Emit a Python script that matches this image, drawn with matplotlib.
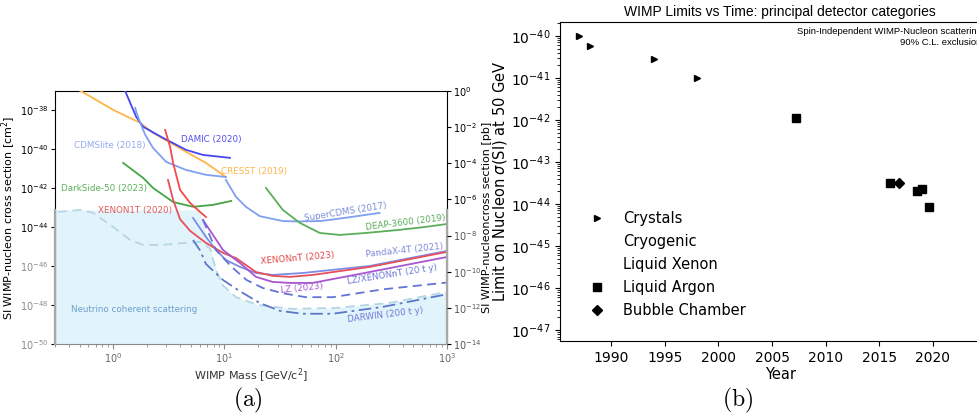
"""Two-panel WIMP exclusion figure: limits vs mass (a) and limits vs year (b)."""

import matplotlib

matplotlib.use("Agg")

import matplotlib.pyplot as plt
import numpy as np
from matplotlib.ticker import NullLocator

# ---- panel (a): SI cross section limits vs WIMP mass (mass in GeV, log10 sigma in cm^2)
cresst_mass = [0.4, 0.51, 1.0, 1.75, 2.28, 4.52, 6.82, 10.3]
cresst_logsig = [-36.75, -37.03, -38.0, -38.67, -39.18, -40.15, -40.72, -41.44]

damic_mass = [1.25, 1.28, 1.61, 1.86, 2.81, 4.52, 6.41, 11.2]
damic_logsig = [-36.9, -37.03, -38.36, -38.87, -39.44, -40.05, -40.31, -40.46]

cdmslite_mass = [1.58, 1.61, 1.75, 1.95, 2.28, 3.0, 4.52, 6.82, 10.3]
cdmslite_logsig = [-37.9, -38.1, -38.67, -39.3, -39.95, -40.67, -41.08, -41.33, -41.44]

supercdms_mass = [10.3, 12.7, 15.6, 20.8, 33.5, 47.5, 71.9, 94, 142, 248]
supercdms_logsig = [-41.59, -42.46, -42.97, -43.45, -43.7, -43.72, -43.7, -43.62, -43.48, -43.28]

ds50_mass = [1.23, 1.86, 2.28, 3.45, 5.22, 7.89, 11.5]
ds50_logsig = [-40.72, -41.49, -42.0, -42.72, -42.97, -42.87, -42.67]

deap_mass = [23.6, 33.5, 47.5, 71.9, 109, 186, 375, 641, 1000]
deap_logsig = [-42.0, -43.13, -43.79, -44.31, -44.41, -44.31, -44.15, -44.0, -43.85]

xenon1t_mass = [2.93, 3.25, 3.45, 3.99, 4.91, 6.03, 6.82]
xenon1t_logsig = [-39.03, -39.9, -40.7, -42.1, -42.77, -43.23, -43.49]

xenonnt_mass = [3.11, 3.45, 3.99, 4.91, 6.82, 9.7, 12.7, 19.2, 27.2, 38.7, 62, 202, 1000]
xenonnt_logsig = [-41.59, -42.6, -43.6, -44.2, -44.82, -45.33, -45.6, -46.31, -46.51,
                  -46.56, -46.46, -46.05, -45.28]

pandax_mass = [5.22, 6.82, 8.39, 10.3, 13.8, 19.2, 27.2, 50.6, 202, 1000]
pandax_logsig = [-43.54, -44.51, -45.18, -45.69, -46.05, -46.36, -46.46, -46.36, -46.0, -45.23]

lz_mass = [6.41, 9.7, 13.8, 19.2, 27.2, 38.7, 62, 202, 1000]
lz_logsig = [-43.64, -45.18, -45.85, -46.56, -46.82, -46.87, -46.87, -46.31, -45.54]

lzxe_mass = [6.41, 8.39, 11.6, 15.8, 22.1, 33.5, 53.8, 94, 264, 1000]
lzxe_logsig = [-43.64, -45.18, -46.05, -46.72, -47.13, -47.4, -47.6, -47.6, -47.2, -46.85]

darwin_mass = [5.22, 6.03, 6.82, 9.7, 13.8, 20.8, 31.5, 50, 94, 264, 1000]
darwin_logsig = [-44.67, -45.2, -45.9, -46.72, -47.3, -47.9, -48.3, -48.45, -48.45, -48.1, -47.45]

nu_mass = [0.32, 0.51, 0.66, 1.0, 1.42, 1.86, 2.81, 4.25, 6.03, 7.41, 8.4, 9.7, 12.7, 20, 40,
           100, 300, 1000]
nu_logsig = [-43.23, -43.13, -43.28, -44.0, -44.67, -44.92, -44.92, -44.82, -44.77, -45.1,
             -46.2, -47.0, -47.6, -48.0, -48.2, -48.15, -47.9, -47.33]

fog_mass = [0.3, 6.0, 7.41, 8.4, 9.7, 12.7, 20, 40, 100, 300, 1000]
fog_logsig = [-43.13, -43.13, -45.1, -46.2, -47.0, -47.6, -48.0, -48.2, -48.15, -47.9, -47.33]

left_ticks = [-38, -40, -42, -44, -46, -48, -50]
right_ticks = [0, -2, -4, -6, -8, -10, -12, -14]

# ---- panel (b): limit at 50 GeV vs year
crystal_years = [1987, 1988, 1994, 1998]
crystal_limits = [1.0e-40, 5.8e-41, 2.8e-41, 1.0e-41]
cryogenic_years = []
cryogenic_limits = []
xenon_years = []
xenon_limits = []
argon_years = [2007.2, 2016.0, 2018.5, 2019.0, 2019.7]
argon_limits = [1.1e-42, 3.1e-44, 2.0e-44, 2.3e-44, 8.5e-45]
bubble_years = [2016.9]
bubble_limits = [3.1e-44]
year_ticks = [1990, 1995, 2000, 2005, 2010, 2015, 2020]
limit_ticks = [-40, -41, -42, -43, -44, -45, -46, -47]

GRAY = "#8a8a8a"


def draw_mass_panel(fig):
    ax = fig.add_axes([0.0563, 0.179, 0.4012, 0.604])
    ax.set_xscale("log")
    ax.set_yscale("log")

    ax.fill_between(fog_mass, 1e-50, 10 ** np.array(fog_logsig), color="#e2f4fb",
                    lw=0, zorder=0)
    ax.plot(nu_mass, 10 ** np.array(nu_logsig), ls=(0, (5, 3)), color="#b5d6e3",
            lw=1.3, zorder=1)

    curves = [
        (cresst_mass, cresst_logsig, "#ffb547", "-"),
        (damic_mass, damic_logsig, "#4646f2", "-"),
        (cdmslite_mass, cdmslite_logsig, "#7f9ff0", "-"),
        (supercdms_mass, supercdms_logsig, "#7f9ff0", "-"),
        (ds50_mass, ds50_logsig, "#46a446", "-"),
        (deap_mass, deap_logsig, "#5aae5a", "-"),
        (xenon1t_mass, xenon1t_logsig, "#f24a4a", "-"),
        (pandax_mass, pandax_logsig, "#7f8ce6", "-"),
        (xenonnt_mass, xenonnt_logsig, "#e6505a", "-"),
        (lz_mass, lz_logsig, "#a955d0", "-"),
        (lzxe_mass, lzxe_logsig, "#6474d6", (0, (5, 3))),
        (darwin_mass, darwin_logsig, "#5b78c8", (0, (7, 2.5, 1.5, 2.5))),
    ]
    for mass, logsig, color, style in curves:
        ax.plot(mass, 10 ** np.array(logsig), color=color, ls=style, lw=1.3, zorder=3)

    labels = [
        ("CDMSlite (2018)", 0.44, -39.85, "#93aaf0", 0),
        ("DAMIC (2020)", 4.1, -39.54, "#5050ee", 0),
        ("CRESST (2019)", 9.3, -41.18, "#ffb547", 0),
        ("DarkSide-50 (2023)", 0.34, -42.05, "#5cb05c", 0),
        ("XENON1T (2020)", 0.73, -43.18, "#e85a5a", 0),
        ("SuperCDMS (2017)", 52, -43.55, "#7a8cdc", 9),
        ("DEAP-3600 (2019)", 186, -44.05, "#5aae5a", 7),
        ("XENONnT (2023)", 21, -45.75, "#e04a4a", 5),
        ("PandaX-4T (2021)", 186, -45.4, "#7f86dc", 6),
        ("LZ (2023)", 32, -47.28, "#aa5ad0", 6),
        ("LZ/XENONnT (20 t y)", 128, -46.8, "#6a78d6", 9),
        ("DARWIN (200 t y)", 128, -48.75, "#6a78d6", 7),
        ("Neutrino coherent scattering", 0.42, -48.25, "#6d9fcd", 0),
    ]
    for text, m, logsig, color, rot in labels:
        ax.text(m, 10 ** logsig, text, color=color, fontsize=6.3, rotation=rot,
                ha="left", va="center", rotation_mode="anchor", zorder=4)

    ax.set_xlim(0.3, 1000)
    ax.set_ylim(1e-50, 10 ** -37.03)
    ax.set_yticks([10.0 ** t for t in left_ticks],
                  [rf"$10^{{{t}}}$" for t in left_ticks])
    ax.yaxis.set_minor_locator(NullLocator())
    for tick, label in zip(left_ticks, ax.get_yticklabels()):
        label.set_color("black" if tick > -45 else GRAY)
    ax.tick_params(axis="y", labelsize=7, length=3, pad=2)
    ax.tick_params(axis="x", which="both", colors=GRAY, labelsize=7, pad=2)
    ax.tick_params(axis="x", labelcolor="#666666")
    ax.set_xlabel("WIMP Mass [GeV/c$^2$]", fontsize=8, color="#333333", labelpad=1)
    ax.set_ylabel("SI WIMP-nucleon cross section [cm$^2$]", fontsize=8, labelpad=1)

    ax.spines["bottom"].set_color(GRAY)
    for side in (0, 1):
        ax.plot([side, side], [1e-50, 10 ** fog_logsig[0]], color="#a8a8a8", lw=1.6,
                transform=ax.get_yaxis_transform(), clip_on=False, zorder=6)

    ax2 = ax.twinx()
    ax2.set_yscale("log")
    ax2.set_ylim(1e-14, 1)
    ax2.set_yticks([10.0 ** t for t in right_ticks],
                   [rf"$10^{{{t}}}$" for t in right_ticks])
    ax2.yaxis.set_minor_locator(NullLocator())
    for tick, label in zip(right_ticks, ax2.get_yticklabels()):
        label.set_color("black" if tick > -7 else "#555555")
    ax2.tick_params(axis="y", labelsize=7, length=3, pad=1)
    for spine in ax2.spines.values():
        spine.set_visible(False)
    ax2.set_ylabel("SI WIMP-nucleoncross section [pb]", fontsize=8, labelpad=1)


def draw_year_panel(fig):
    ax = fig.add_axes([0.5732, 0.1862, 0.4504, 0.7613])
    ax.set_yscale("log")
    ax.plot(crystal_years, crystal_limits, ">", color="black", ms=5, ls="none",
            label="Crystals")
    ax.plot(cryogenic_years, cryogenic_limits, ls="none", marker="", label="Cryogenic")
    ax.plot(xenon_years, xenon_limits, ls="none", marker="", label="Liquid Xenon")
    ax.plot(argon_years, argon_limits, "s", color="black", ms=5.5, ls="none",
            label="Liquid Argon")
    ax.plot(bubble_years, bubble_limits, "D", color="black", ms=5.5, ls="none",
            label="Bubble Chamber")

    ax.set_xlim(1985.2, 2026.3)
    ax.set_ylim(10 ** -47.26, 10 ** -39.67)
    ax.set_xticks(year_ticks)
    ax.set_yticks([10.0 ** t for t in limit_ticks],
                  [rf"$10^{{{t}}}$" for t in limit_ticks])
    ax.tick_params(labelsize=10)
    ax.set_xlabel("Year", fontsize=10.5, labelpad=2)
    ax.set_ylabel(r"Limit on Nucleon $\sigma$(SI) at 50 GeV", fontsize=10.5, labelpad=1)
    ax.set_title("WIMP Limits vs Time: principal detector categories", fontsize=10,
                 family="Liberation Sans", pad=4)
    ax.text(0.958, 0.985, "Spin-Independent WIMP-Nucleon scattering\n90% C.L. exclusion",
            transform=ax.transAxes, ha="right", va="top", fontsize=6.8,
            family="Liberation Sans", linespacing=1.3)
    ax.legend(loc="lower left", bbox_to_anchor=(0.02, 0.03), frameon=False,
              fontsize=10.5, handlelength=2, handletextpad=0.8, labelspacing=0.56)


def main():
    fig = plt.figure(figsize=(9.77, 4.19), dpi=100)
    draw_mass_panel(fig)
    draw_year_panel(fig)
    fig.text(0.254, 0.045, r"$\mathrm{(a)}$", math_fontfamily="cm", fontsize=17,
             ha="center", va="center")
    fig.text(0.755, 0.045, r"$\mathrm{(b)}$", math_fontfamily="cm", fontsize=17,
             ha="center", va="center")
    fig.savefig("out.png", dpi=100)
    plt.close(fig)


if __name__ == "__main__":
    main()
